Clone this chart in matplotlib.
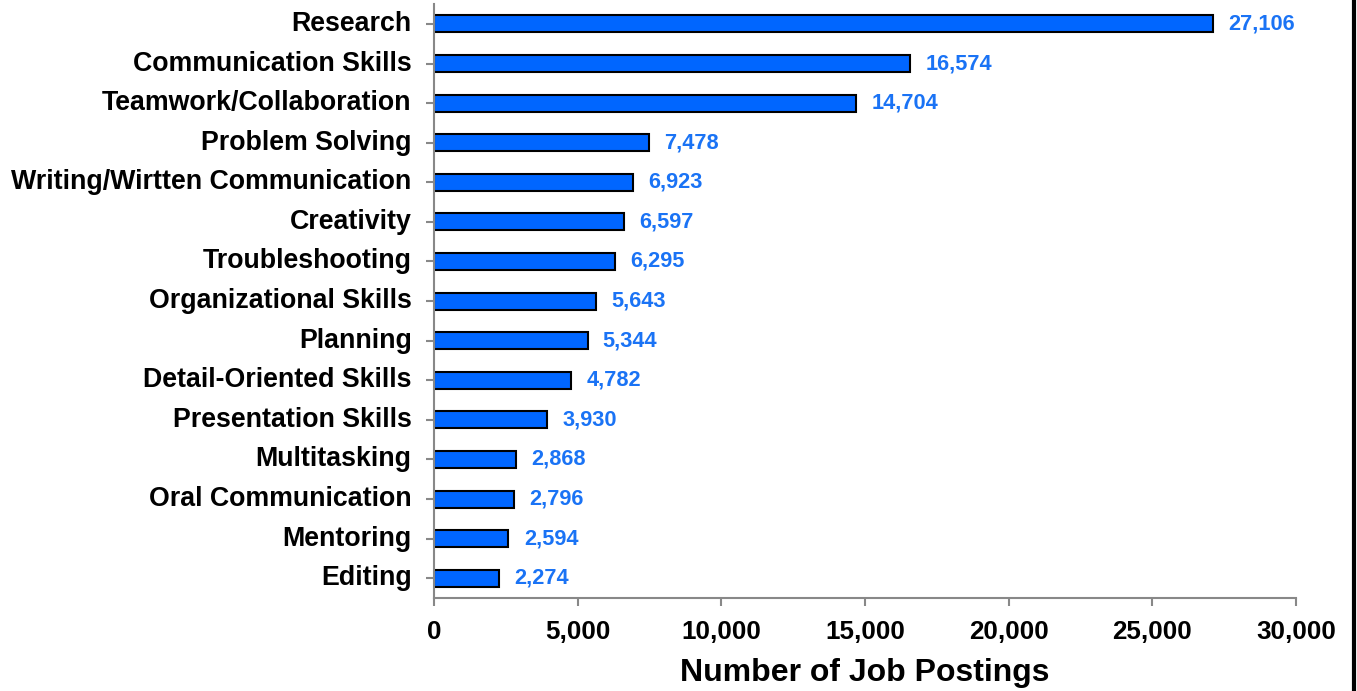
import matplotlib
matplotlib.use('Agg')
import matplotlib.pyplot as plt
from matplotlib.ticker import FuncFormatter
from matplotlib.lines import Line2D

plt.rcParams['font.family'] = ['Liberation Sans', 'DejaVu Sans']

# 数据
skills = ['Research', 'Communication Skills', 'Teamwork/Collaboration', 'Problem Solving',
          'Writing/Wirtten Communication', 'Creativity', 'Troubleshooting',
          'Organizational Skills', 'Planning', 'Detail-Oriented Skills',
          'Presentation Skills', 'Multitasking', 'Oral Communication', 'Mentoring', 'Editing']
postings = [27106, 16574, 14704, 7478, 6923, 6597, 6295, 5643, 5344, 4782,
            3930, 2868, 2796, 2594, 2274]

fig = plt.figure(figsize=(13.57, 6.91), dpi=100)
ax = fig.add_axes([0.3198, 0.1346, 0.9550 - 0.3198, 0.9940 - 0.1346])

y = list(range(len(skills)))
ax.barh(y, postings, height=0.43, color='#0066FF', edgecolor='black', linewidth=1.5)
for yi, v in zip(y, postings):
    ax.annotate(f'{v:,}', (v, yi), xytext=(11, 0), textcoords='offset points',
                va='center', ha='left', fontsize=15.7, fontweight='bold', color='#1a73f5')

ax.set_ylim(len(skills) - 0.5, -0.5)
ax.set_yticks(y)
ax.set_yticklabels(skills, fontsize=19.3, fontweight='bold', va='center')
ax.set_xlim(0, 30000)
ax.set_xticks(range(0, 30001, 5000))
ax.xaxis.set_major_formatter(FuncFormatter(lambda x, p: f'{int(x):,}'))
for lab in ax.get_xticklabels():
    lab.set_fontsize(18.7)
    lab.set_fontweight('bold')
ax.set_xlabel('Number of Job Postings', fontsize=23, fontweight='bold', labelpad=10)

for s in ['top', 'right']:
    ax.spines[s].set_visible(False)
for s in ['left', 'bottom']:
    ax.spines[s].set_color('#888888')
    ax.spines[s].set_linewidth(1.5)
ax.tick_params(axis='both', colors='#888888', width=1.5, length=6, direction='out')
ax.tick_params(axis='x', labelcolor='black', pad=10)
ax.tick_params(axis='y', labelcolor='black', pad=10)

# 右侧边框
fig.add_artist(Line2D([0.9975, 0.9975], [0, 1], transform=fig.transFigure, color='black', linewidth=3))

fig.savefig('out.png', dpi=100)
